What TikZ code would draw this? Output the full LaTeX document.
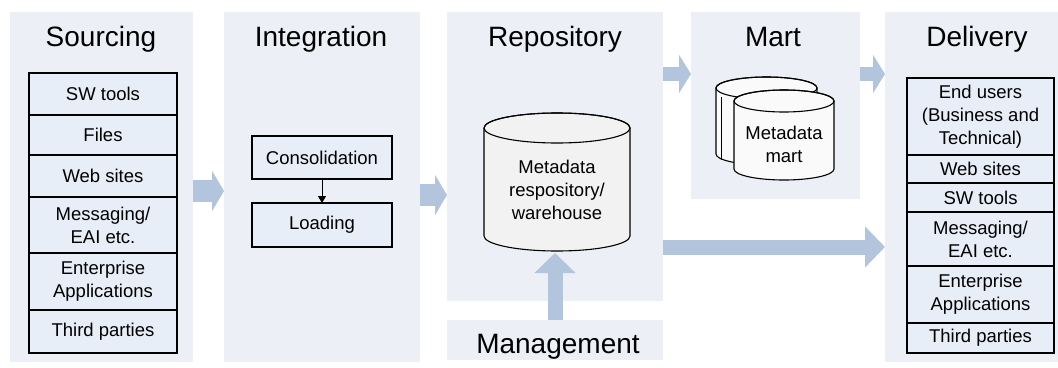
\documentclass[tikz,border=0pt]{standalone}
\usepackage{fontspec}
\setmainfont{Liberation Sans}
\usetikzlibrary{arrows.meta}
\definecolor{panelc}{HTML}{ECF0F6}
\definecolor{arrowc}{HTML}{B2C5DD}
\definecolor{listc}{HTML}{E8EEF8}
\definecolor{cylc}{HTML}{F2F2F2}
\definecolor{martc}{HTML}{FAFAFA}
\begin{document}
\begin{tikzpicture}[x=1pt,y=-1pt,
  panel/.style={fill=panelc, draw=none, inner sep=0pt, outer sep=0pt},
  title/.style={font=\fontsize{28}{30}\selectfont, inner sep=0pt, anchor=base},
  body/.style={font=\fontsize{18.5}{23}\selectfont, align=center, inner sep=0pt},
  row/.style={body, draw=black, line width=1.1pt, fill=listc, outer sep=0pt},
  srow/.style={row, minimum width=148pt},
  drow/.style={row, minimum width=147pt},
  ibox/.style={row, minimum width=140pt},
  fatA/.style={draw=arrowc, line width=22pt, -{Triangle[length=12pt,width=40pt]}},
  fatB/.style={draw=arrowc, line width=14pt, -{Triangle[length=12pt,width=38pt]}},
  fatC/.style={draw=arrowc, line width=15pt, -{Triangle[length=20pt,width=40pt]}},
  cyl/.style={draw=black, line width=1.1pt},
  smallarr/.style={draw=black, line width=1pt, -{Triangle[length=7pt,width=8pt]}}
]
\useasboundingbox (0,0) rectangle (1058,367);
\fill[white] (0,0) rectangle (1058,367);

% panels
\node[panel, minimum width=183pt, minimum height=350pt] (srcP) at (101.5,187) {};
\node[panel, minimum width=196pt, minimum height=350pt] (intP) at (322,187) {};
\node[panel, minimum width=216pt, minimum height=289pt] (repP) at (555,156.5) {};
\node[panel, minimum width=216pt, minimum height=40pt] (mgmP) at (555,340) {};
\node[panel, minimum width=169pt, minimum height=187pt] (martP) at (775.5,105.5) {};
\node[panel, minimum width=174pt, minimum height=350pt] (delP) at (972,187) {};

% titles
\node[title] (tSrc) at (101,46) {Sourcing};
\node[title] (tInt) at (321,46) {Integration};
\node[title] (tRep) at (555,46) {Repository};
\node[title] (tMart) at (773,46) {Mart};
\node[title] (tDel) at (977,46) {Delivery};
\node[title] (tMgm) at (558,353) {Management};

% sourcing list
\node[srow, minimum height=42pt] (s1) at (103,94) {SW tools};
\node[srow, minimum height=40pt] (s2) at (103,135) {Files};
\node[srow, minimum height=42pt] (s3) at (103,176) {Web sites};
\node[srow, minimum height=56pt] (s4) at (103,225) {Messaging/\\EAI etc.};
\node[srow, minimum height=57pt] (s5) at (103,281.5) {Enterprise\\Applications};
\node[srow, minimum height=43pt] (s6) at (103,331.5) {Third parties};

% integration
\node[ibox, minimum height=43pt] (cons) at (322,157.5) {Consolidation};
\node[ibox, minimum height=44pt] (load) at (322,225) {Loading};
\draw[smallarr] (cons) -- (load);

% repository cylinder
\path[cyl, fill=cylc] (484,128) -- (484,236) arc[start angle=180, end angle=360, x radius=73pt, y radius=15pt] -- (630,128) arc[start angle=0, end angle=180, x radius=73pt, y radius=15pt] -- cycle;
\draw[cyl] (557,128) ellipse [x radius=73pt, y radius=15pt];
\node[body] (repo) at (557,190) {Metadata\\respository/\\warehouse};

% mart cylinders
\path[cyl, fill=martc] (716,88) -- (716,154) arc[start angle=180, end angle=360, x radius=50.5pt, y radius=11pt] -- (817,88) arc[start angle=0, end angle=180, x radius=50.5pt, y radius=11pt] -- cycle;
\draw[cyl] (766.5,88) ellipse [x radius=50.5pt, y radius=11pt];
\draw[line width=0.8pt] (721,97) -- (721,160);
\path[cyl, fill=martc] (734,101) -- (734,169) arc[start angle=180, end angle=360, x radius=50pt, y radius=11pt] -- (834,101) arc[start angle=0, end angle=180, x radius=50pt, y radius=11pt] -- cycle;
\draw[cyl] (784,101) ellipse [x radius=50pt, y radius=11pt];
\node[body] (mart) at (784,144) {Metadata\\mart};

% delivery list
\node[drow, minimum height=77pt] (d1) at (980.5,116.5) {End users\\(Business and\\Technical)};
\node[drow, minimum height=28pt] (d2) at (980.5,169) {Web sites};
\node[drow, minimum height=29pt] (d3) at (980.5,197.5) {SW tools};
\node[drow, minimum height=54pt] (d4) at (980.5,239) {Messaging/\\EAI etc.};
\node[drow, minimum height=57pt] (d5) at (980.5,294.5) {Enterprise\\Applications};
\node[drow, minimum height=30pt] (d6) at (980.5,338) {Third parties};

% fat arrows
\draw[fatA] (srcP.east |- 0,191) -- (intP.west |- 0,191);
\draw[fatA] (intP.east |- 0,195) -- (repP.west |- 0,195);
\draw[fatB] (repP.east |- 0,74) -- (martP.west |- 0,74);
\draw[fatB] (martP.east |- 0,74) -- (delP.west |- 0,74);
\draw[fatC] (repP.east |- 0,247) -- (delP.west |- 0,247);
\draw[fatC] (mgmP.north) -- (mgmP.north |- 0,253);
\end{tikzpicture}
\end{document}
